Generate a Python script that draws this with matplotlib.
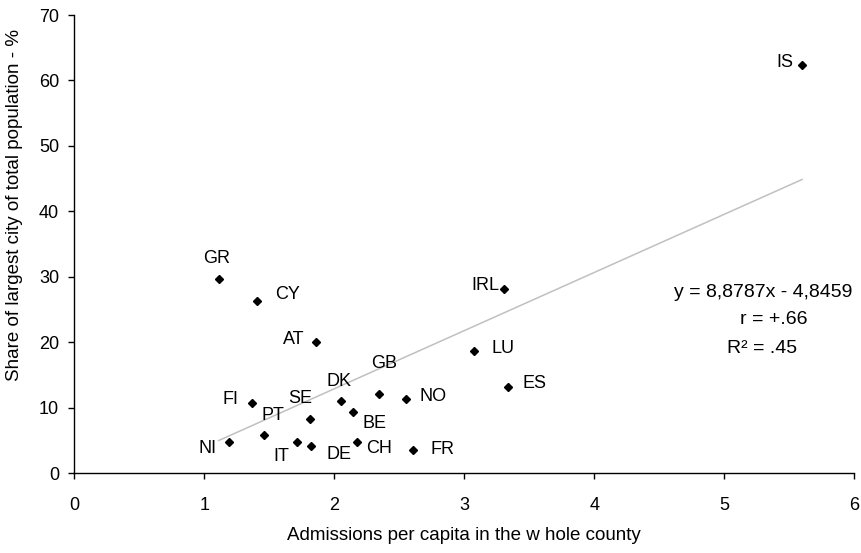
import matplotlib
matplotlib.use("Agg")
import matplotlib.pyplot as plt

plt.rcParams["font.family"] = ["Liberation Sans", "DejaVu Sans"]

# Country codes, admissions per capita and share of the largest city (%)
countries = ["GR", "CY", "AT", "IRL", "LU", "ES", "IS", "FI", "NO", "SE",
             "PT", "NI", "IT", "DE", "CH", "FR", "BE", "DK", "GB"]
admissions = [1.11, 1.405, 1.862, 3.304, 3.073, 3.337, 5.6, 1.364, 2.552, 1.81,
              1.459, 1.19, 1.713, 1.823, 2.175, 2.606, 2.144, 2.052, 2.346]
city_share = [29.7, 26.35, 20.0, 28.2, 18.65, 13.15, 62.3, 10.8, 11.36, 8.3,
              5.9, 4.79, 4.74, 4.17, 4.74, 3.61, 9.42, 11.1, 12.17]

# label offsets in points (dx, dy) relative to each marker
label_offsets = {
    "GR": (-1.5, 14.5), "CY": (22, 4.8), "AT": (-16.5, 2.2), "IRL": (-13.5, 2.2),
    "LU": (21.3, 1.7), "ES": (19.4, 2.9), "IS": (-12.5, 2.2), "FI": (-15.6, 1.9),
    "NO": (19.7, 1.7), "SE": (-6.5, 14.9), "PT": (6.7, 13.5), "NI": (-15.6, -4.5),
    "IT": (-11, -9.9), "DE": (20.2, -6), "CH": (16, -4.3), "FR": (21.4, 0.3),
    "BE": (15.1, -8.4), "DK": (-1.4, 13.7), "GB": (3.4, 21.4),
}

# linear trend, coefficients as printed on the chart
slope, intercept = 8.8787, -4.8459
stats_lines = ["y = 8,8787x - 4,8459", "r = +.66", "R² = .45"]

W, H = 862, 553
fig = plt.figure(figsize=(W / 100, H / 100), dpi=100)
ax = fig.add_axes([74.5 / W, 1 - 473.3 / H, (854 - 74.5) / W, (473.3 - 15) / H])

x0, x1 = min(admissions), max(admissions)
ax.plot([x0, x1], [slope * x0 + intercept, slope * x1 + intercept],
        color="#c0c0c0", lw=1.1, zorder=1)
ax.plot(admissions, city_share, linestyle="none", marker="D",
        markersize=4, color="black", zorder=3)

for name, xv, yv in zip(countries, admissions, city_share):
    dx, dy = label_offsets[name]
    ax.annotate(name, (xv, yv), xytext=(dx, dy), textcoords="offset points",
                ha="center", va="center", fontsize=13)

stat_pos = [(763.5, 292.7), (773.5, 320), (762.5, 348.3)]
for line, (px, py) in zip(stats_lines, stat_pos):
    fig.text(px / W, 1 - py / H, line, ha="center", va="center", fontsize=14)

ax.set_xlim(0, 6)
ax.set_ylim(0, 70)
ax.set_xticks(range(0, 7))
ax.set_yticks(range(0, 71, 10))
ax.spines["top"].set_visible(False)
ax.spines["right"].set_visible(False)
for side in ("left", "bottom"):
    ax.spines[side].set_linewidth(1)
ax.tick_params(axis="both", direction="out", length=4, width=1, labelsize=13)
ax.tick_params(axis="x", pad=13)
ax.tick_params(axis="y", pad=7)

fig.text(464 / W, 1 - 535 / H, "Admissions per capita in the w hole county",
         ha="center", va="center", fontsize=13.5)
fig.text(15 / W, 1 - 205 / H, "Share of largest city of total population - %",
         ha="center", va="center", rotation=90, fontsize=13.5)

fig.savefig("out.png", dpi=100)
